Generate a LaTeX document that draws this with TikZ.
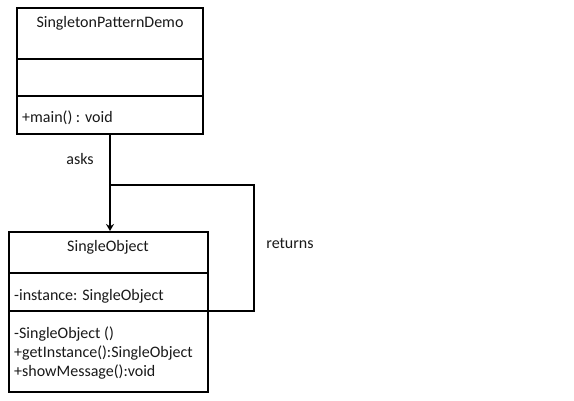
\documentclass[tikz,border=0pt]{standalone}
\usepackage{fontspec}
\setmainfont{Carlito}
\usetikzlibrary{arrows.meta}
\begin{document}
\begin{tikzpicture}[x=1pt,y=-1pt,
  umlbox/.style={draw=black, line width=2pt, rectangle, inner sep=0pt},
  divider/.style={draw=black, line width=2pt},
  txt/.style={font=\fontsize{16}{19}\selectfont, inner sep=0pt, text=black!90},
  conn/.style={draw=black, line width=2pt},
  arr/.style={draw=black, line width=2.4pt, -{Stealth[length=7pt,width=8pt]}}
]
\useasboundingbox[fill=white] (0,0) rectangle (574,401);
% top class
\node[umlbox, minimum width=186pt, minimum height=126pt] (demo) at (110,71) {};
\draw[divider] (demo.west |- 0,59) -- (demo.east |- 0,59);
\draw[divider] (demo.west |- 0,96) -- (demo.east |- 0,96);
\node[txt] (demoname) at (110,23) {SingletonPatternDemo};
\node[txt, anchor=west] (demomain) at (22,117.5) {+main() : void};
% bottom class
\node[umlbox, minimum width=199pt, minimum height=160pt] (obj) at (108.5,312) {};
\draw[divider] (obj.west |- 0,273) -- (obj.east |- 0,273);
\draw[divider] (obj.west |- 0,311.5) -- (obj.east |- 0,311.5);
\node[txt] (objname) at (108,247) {SingleObject};
\node[txt, anchor=west] (attr) at (14,296) {-instance: SingleObject};
\node[txt, anchor=west] (m1) at (14,334) {-SingleObject ()};
\node[txt, anchor=west] (m2) at (14,353) {+getInstance():SingleObject};
\node[txt, anchor=west] (m3) at (14,372) {+showMessage():void};
% connectors
\coordinate (junc) at (110,185);
\coordinate (rtop) at (254,185);
\coordinate (rbot) at (254,311.5);
\coordinate (attrend) at (obj.east |- rbot);
\draw[arr] (demo.south) -- (demo.south |- obj.north);
\draw[conn, line join=miter] (junc) -- (rtop) -- (rbot) -- (attrend);
\node[txt] (asks) at (80,159) {asks};
\node[txt] (returns) at (290,244) {returns};
\end{tikzpicture}
\end{document}
